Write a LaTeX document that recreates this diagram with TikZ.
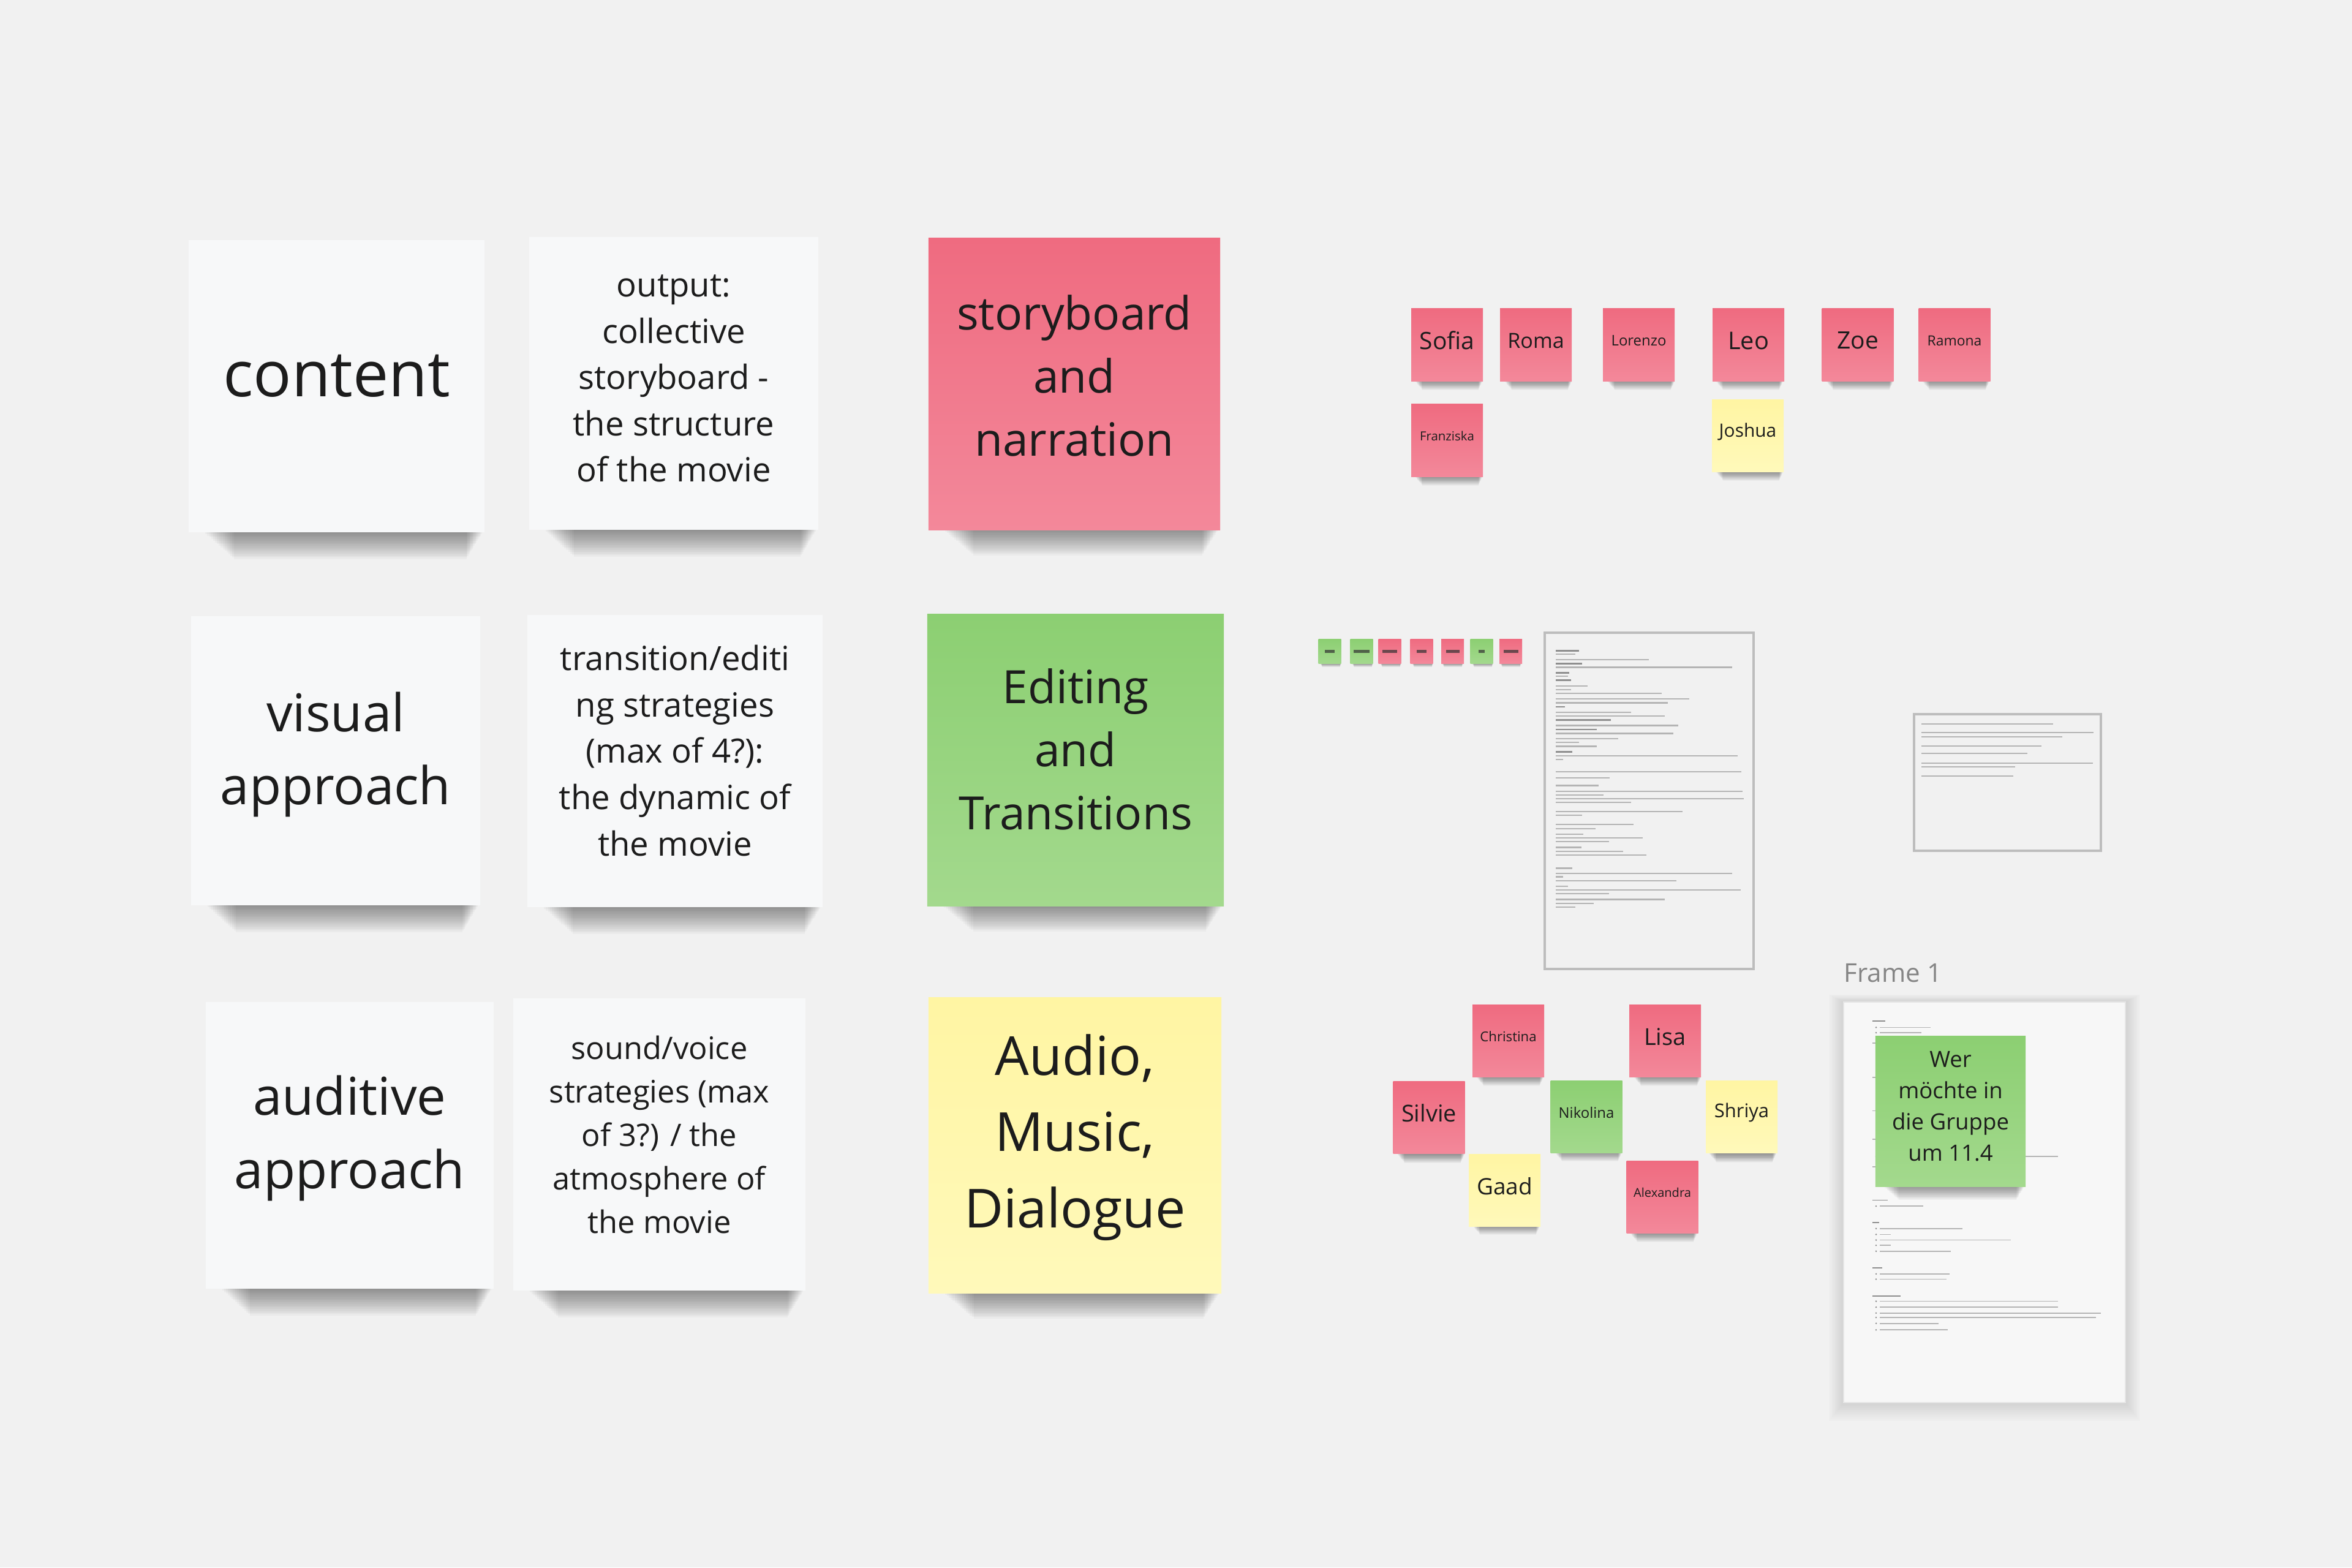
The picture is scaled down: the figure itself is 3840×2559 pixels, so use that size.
\documentclass[tikz,border=0pt]{standalone}
\usepackage{fontspec}
\setmainfont{Open Sans}
\definecolor{bg}{HTML}{F1F1F1}
\definecolor{notew}{HTML}{F7F8F9}
\definecolor{redtop}{HTML}{EF6B80}
\definecolor{redbot}{HTML}{F3889A}
\definecolor{greentop}{HTML}{8CCF72}
\definecolor{greenbot}{HTML}{A3D98D}
\definecolor{yeltop}{HTML}{FFF5A3}
\definecolor{yelbot}{HTML}{FFF9BA}
\definecolor{txt}{HTML}{1C1C1C}
\definecolor{docline}{HTML}{B4B4B4}
\definecolor{docbold}{HTML}{8E8E8E}
\definecolor{docborder}{HTML}{BDBDBD}
% soft shadow under a note: x1, x2, bottom y, height
\newcommand\shadowunder[4]{%
  \foreach \k in {1,...,16}{%
    \fill[black, opacity=0.026]
      ({#1+0.05*(#2-#1)+\k*0.0065*(#2-#1)},{#3-4}) rectangle
      ({#2-0.005*(#2-#1)-\k*0.0035*(#2-#1)},{#3+\k*#4/16});
  }}
\tikzset{
  stickynote/.style={draw=none, inner sep=0pt, align=center, text=txt},
  wnote/.style={stickynote, fill=notew},
  rnote/.style={stickynote, top color=redtop, bottom color=redbot},
  gnote/.style={stickynote, top color=greentop, bottom color=greenbot},
  ynote/.style={stickynote, top color=yeltop, bottom color=yelbot},
  notetext/.style={inner sep=0pt, align=center, text=txt},
  namebox/.style={minimum width=1.17cm, minimum height=1.18cm},
  tinybox/.style={minimum width=0.37cm, minimum height=0.40cm},
  dl/.style={draw=docline, line width=0.022cm},
  dlb/.style={draw=docbold, line width=0.026cm},
}
% name note: style, node name, x, y, font size, text
\newcommand\namenote[6]{%
  \node[#1, namebox] (#2) at (#3,#4) {};
  \node[notetext, font=\fontsize{#5}{#5}\selectfont] (#2t) at ([yshift=0.07cm]#2.center) {#6};}
\begin{document}
\begin{tikzpicture}[x=0.01cm, y=-0.01cm]
\fill[bg] (0,0) rectangle (3840,2559);
\useasboundingbox (0,0) rectangle (3840,2559);

% ---------- shadows of the big notes ----------
\shadowunder{308}{791}{869}{44}
\shadowunder{864}{1336}{865}{44}
\shadowunder{312}{784}{1478}{44}
\shadowunder{861}{1343}{1481}{44}
\shadowunder{336}{806}{2104}{44}
\shadowunder{838}{1315}{2107}{44}
\shadowunder{1516}{1992}{865}{42}
\shadowunder{1514}{1998}{1479}{42}
\shadowunder{1516}{1994}{2111}{42}

% ---------- white notes ----------
\node[wnote, minimum width=4.83cm, minimum height=4.77cm] (content) at (549.5,630.5) {};
\node[notetext, font=\fontsize{29.5}{35}\selectfont] (contentT) at (549.5,613.5) {content};
\node[wnote, minimum width=4.72cm, minimum height=4.78cm] (output) at (1100,626) {};
\node[notetext, font=\fontsize{15.5}{21.5}\selectfont] (outputT) at (1100,618) {output:\\collective\\storyboard -\\the structure\\of the movie};
\node[wnote, minimum width=4.72cm, minimum height=4.72cm] (visual) at (548,1242) {};
\node[notetext, font=\fontsize{24.2}{33.9}\selectfont] (visualT) at (548,1232) {visual\\approach};
\node[wnote, minimum width=4.82cm, minimum height=4.77cm] (transition) at (1102,1242.5) {};
\node[notetext, font=\fontsize{15.5}{21.6}\selectfont] (transitionT) at (1102,1225.5) {transition/editi\\ng strategies\\(max of 4?):\\the dynamic of\\the movie};
\node[wnote, minimum width=4.70cm, minimum height=4.68cm] (auditive) at (571,1870) {};
\node[notetext, font=\fontsize{24.2}{34.1}\selectfont] (auditiveT) at (571,1858) {auditive\\approach};
\node[wnote, minimum width=4.77cm, minimum height=4.77cm] (sound) at (1076.5,1868.5) {};
\node[notetext, font=\fontsize{14.4}{20.2}\selectfont] (soundT) at (1076.5,1852.5) {sound/voice\\strategies (max\\of 3?) / the\\atmosphere of\\the movie};

% ---------- coloured topic notes ----------
\node[rnote, minimum width=4.76cm, minimum height=4.76cm] (story) at (1754,627) {};
\node[notetext, font=\fontsize{21.3}{29.3}\selectfont] (storyT) at (1754,613) {storyboard\\and\\narration};
\node[gnote, minimum width=4.84cm, minimum height=4.76cm] (editing) at (1756,1241) {};
\node[notetext, font=\fontsize{21.3}{29.3}\selectfont] (editingT) at (1756,1223) {Editing\\and\\Transitions};
\node[ynote, minimum width=4.78cm, minimum height=4.82cm] (audio) at (1755,1870) {};
\node[notetext, font=\fontsize{25}{35.3}\selectfont] (audioT) at (1755,1857) {Audio,\\Music,\\Dialogue};

% ---------- name notes, top group ----------
\foreach \xa/\yb in {2304/622, 2450/622, 2618/622, 2795/622, 2975/622, 3132/622, 2304/778, 2795/770}
  \shadowunder{\xa}{\xa+117}{\yb}{15};
\namenote{rnote}{sofia}{2362.5}{563}{11.1}{Sofia}
\namenote{rnote}{roma}{2507.5}{563}{9.7}{Roma}
\namenote{rnote}{lorenzo}{2675.5}{563}{6.8}{Lorenzo}
\namenote{rnote}{leo}{2854.5}{563}{11.3}{Leo}
\namenote{rnote}{zoe}{3033}{563}{11.1}{Zoe}
\namenote{rnote}{ramona}{3191}{563}{6.5}{Ramona}
\namenote{rnote}{franziska}{2362.5}{719}{5.8}{Franziska}
\namenote{ynote}{joshua}{2853.5}{711.5}{8.5}{Joshua}

% ---------- name notes, bottom group ----------
\foreach \xa/\yb in {2404/1758, 2661/1758, 2275/1884, 2532/1881, 2784/1883, 2398/2001, 2655/2013}
  \shadowunder{\xa}{\xa+117}{\yb}{15};
\namenote{rnote}{christina}{2462.5}{1699.5}{6.3}{Christina}
\namenote{rnote}{lisa}{2718.5}{1699.5}{10.8}{Lisa}
\namenote{rnote}{silvie}{2333}{1824.5}{10.8}{Silvie}
\namenote{gnote}{nikolina}{2590}{1823}{6.8}{Nikolina}
\namenote{ynote}{shriya}{2843.5}{1823.5}{8.8}{Shriya}
\namenote{ynote}{gaad}{2456.5}{1943.5}{10.5}{Gaad}
\namenote{rnote}{alexandra}{2714}{1954}{5.7}{Alexandra}

% ---------- tiny notes row (illegible text shown as marks) ----------
\foreach \xa in {2153,2205,2251,2303,2352,2401,2447}
  \shadowunder{\xa}{\xa+37}{1083}{6};
\node[gnote, tinybox] (t1) at (2171,1063) {};
\node[gnote, tinybox] (t2) at (2223,1063) {};
\node[rnote, tinybox] (t3) at (2269,1063) {};
\node[rnote, tinybox] (t4) at (2321,1063) {};
\node[rnote, tinybox] (t5) at (2371.5,1063) {};
\node[gnote, tinybox] (t6) at (2419,1063) {};
\node[rnote, tinybox] (t7) at (2466.5,1063) {};
\foreach \n/\w in {t1/8, t2/13, t3/12, t4/8, t5/11, t6/5, t7/12}
  \fill[black!80, opacity=0.7] ([xshift=-\w*0.01cm, yshift=-0.025cm]\n.center) rectangle ([xshift=\w*0.01cm, yshift=0.025cm]\n.center);

% ---------- document 1 ----------
\node[draw=docborder, line width=0.045cm, fill=bg, minimum width=3.41cm, minimum height=5.49cm, inner sep=0pt] (doc1) at (2692.5,1307.5) {};
\foreach \zy/\ze in {115/235, 172/250, 213/185, 245/195, 362/165, 420/390, 462/320, 562/200}
  \draw[dlb] (2540,{1020+\zy/2.705}) -- ({2500+\ze/3},{1020+\zy/2.705});
\foreach \zy/\ze in {130/215, 155/575, 188/985, 228/180, 270/275, 287/195, 303/640, 328/775, 345/670, 387/490, 403/655, 445/720, 480/695, 503/425, 520/235, 537/320, 578/1010, 594/155, 650/1030, 677/385, 710/330, 735/1035, 752/355, 768/1040, 785/490, 825/740, 842/250, 882/500, 900/315, 925/255, 942/545, 958/380, 983/245, 1000/450, 1017/565, 1075/200, 1098/985, 1113/155, 1130/710, 1155/180, 1172/1025, 1188/380, 1213/655, 1230/305, 1247/215}
  \draw[dl] (2540,{1020+\zy/2.705}) -- ({2500+\ze/3},{1020+\zy/2.705});

% ---------- document 2 ----------
\node[draw=docborder, line width=0.045cm, fill=bg, minimum width=3.05cm, minimum height=2.23cm, inner sep=0pt] (doc2) at (3277.5,1277.5) {};
\foreach \zy/\ze in {95/755, 138/955, 158/800, 205/700, 240/630, 288/950, 306/570, 352/560}
  \draw[dl] (3137,{1150+\zy/3}) -- ({3100+\ze/3},{1150+\zy/3});

% ---------- Frame 1 ----------
\foreach \i in {1,...,10}
  \fill[black, opacity=0.013] (3010-\i*2.4,1636-\i*1.2) rectangle (3470+\i*2.4,2290+\i*3);
\node[anchor=base west, text=black!48, font=\fontsize{12}{14}\selectfont, inner sep=0pt] (framelabel) at (3010,1603) {Frame 1};
\node[draw=black!10, line width=0.02cm, fill=white!97!black, minimum width=4.60cm, minimum height=6.54cm, inner sep=0pt] (frame) at (3240,1963) {};
% frame document lines (headings, bullet items)
\foreach \zy/\ze in {243/235, 852/245, 928/205, 1082/220, 1177/310}
  \draw[dlb, line width=0.016cm] (3057,{1550+\zy/2.08}) -- ({3000+\ze/3},{1550+\zy/2.08});
\foreach \zy/\ze in {265/455, 283/410, 703/1080, 872/420, 948/612, 968/262, 987/850, 1005/262, 1025/555, 1102/550, 1120/535, 1195/1080, 1215/1080, 1235/1290, 1250/1265, 1270/495, 1292/540}
  { \draw[dl, line width=0.018cm] (3069,{1550+\zy/2.08}) -- ({3000+\ze/3},{1550+\zy/2.08});
    \fill[black!45] (3063,{1550+\zy/2.08}) circle (1.4); }
\foreach \zy in {318, 435, 548, 645, 738}
  \draw[dl, line width=0.018cm] (3057,{1550+\zy/2.08}) -- (3075,{1550+\zy/2.08});
% green note on the frame
\shadowunder{3062}{3307}{1937}{22}
\node[gnote, minimum width=2.45cm, minimum height=2.45cm] (wer) at (3184.5,1814.5) {};
\node[notetext, font=\fontsize{10.4}{14.5}\selectfont] (werT) at (3184.5,1806.5) {Wer\\möchte in\\die Gruppe\\um 11.4};
\end{tikzpicture}
\end{document}
